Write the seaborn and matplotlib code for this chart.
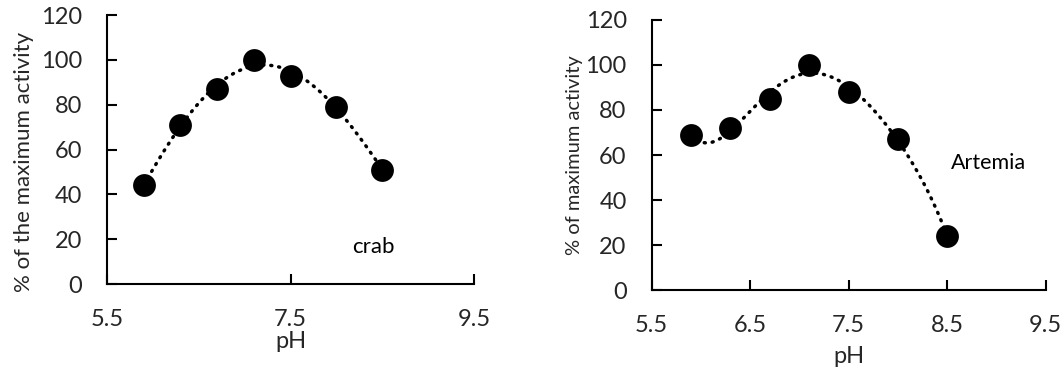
import numpy as np
import pandas as pd
import matplotlib
matplotlib.use("Agg")
import matplotlib.pyplot as plt
import seaborn as sns

# pH profiles of enzyme activity
crab_ph = [5.9, 6.3, 6.7, 7.1, 7.5, 8.0, 8.5]
crab_activity = [44, 71, 87, 100, 93, 79, 51]

artemia_ph = [5.9, 6.3, 6.7, 7.1, 7.5, 8.0, 8.5]
artemia_activity = [69, 72, 85, 100, 88, 67, 24]

crab_ticks = [5.5, 7.5, 9.5]
artemia_ticks = [5.5, 6.5, 7.5, 8.5, 9.5]
y_ticks = [0, 20, 40, 60, 80, 100, 120]

sns.set_theme(style="white")
plt.rcParams["font.family"] = ["Lato", "DejaVu Sans"]

fig = plt.figure(figsize=(10.64, 3.73), dpi=100)
ax1 = fig.add_axes([0.1006, 0.2386, 0.345, 0.721])
ax2 = fig.add_axes([0.6125, 0.2225, 0.3703, 0.7239])


def trend(x, y, deg):
    coef = np.polyfit(x, y, deg)
    xs = np.linspace(min(x), max(x), 200)
    return pd.DataFrame({"pH": xs, "act": np.polyval(coef, xs)})


def panel(ax, ph, act, deg, xticks, ylabel, label, label_xy, label_size,
          ylab_size, ylab_xy, tick_size, xpad, xlabpad):
    df = pd.DataFrame({"pH": ph, "act": act})
    tr = trend(ph, act, deg)
    sns.lineplot(data=tr, x="pH", y="act", ax=ax, color="black",
                 linestyle=(0, (0.3, 2.0)), linewidth=2.5, dash_capstyle="round")
    sns.scatterplot(data=df, x="pH", y="act", ax=ax, color="black", s=270,
                    edgecolor="black", linewidth=0, zorder=3)
    ax.set_xlim(5.5, 9.5)
    ax.set_ylim(0, 120)
    ax.set_xticks(xticks)
    ax.set_xticklabels([f"{t:.1f}" for t in xticks])
    ax.set_yticks(y_ticks)
    for s in ["top", "right"]:
        ax.spines[s].set_visible(False)
    for s in ["left", "bottom"]:
        ax.spines[s].set_color("black")
        ax.spines[s].set_linewidth(1.5)
    ax.tick_params(axis="x", direction="in", length=7, width=1.5, color="black",
                   labelsize=tick_size, pad=xpad, bottom=True)
    ax.tick_params(axis="y", direction="in", length=7, width=1.5, color="black",
                   labelsize=tick_size, pad=18, left=True)
    ax.set_xlabel("pH", fontsize=tick_size, labelpad=xlabpad)
    ax.set_ylabel(ylabel, fontsize=ylab_size)
    ax.yaxis.set_label_coords(*ylab_xy)
    ax.text(label_xy[0], label_xy[1], label, fontsize=label_size,
            ha="center", va="center", color="black")
    ax.grid(False)


panel(ax1, crab_ph, crab_activity, 4, crab_ticks, "% of the maximum activity",
      "crab", (8.4, 16.6), 16, 16, (-0.199, 0.454), 17, 18, 1)
panel(ax2, artemia_ph, artemia_activity, 5, artemia_ticks, "% of maximum activity",
      "Artemia", (8.92, 56.3), 15.5, 14.5, (-0.174, 0.5), 17, 18, 7)

fig.savefig("out.png", dpi=100)
